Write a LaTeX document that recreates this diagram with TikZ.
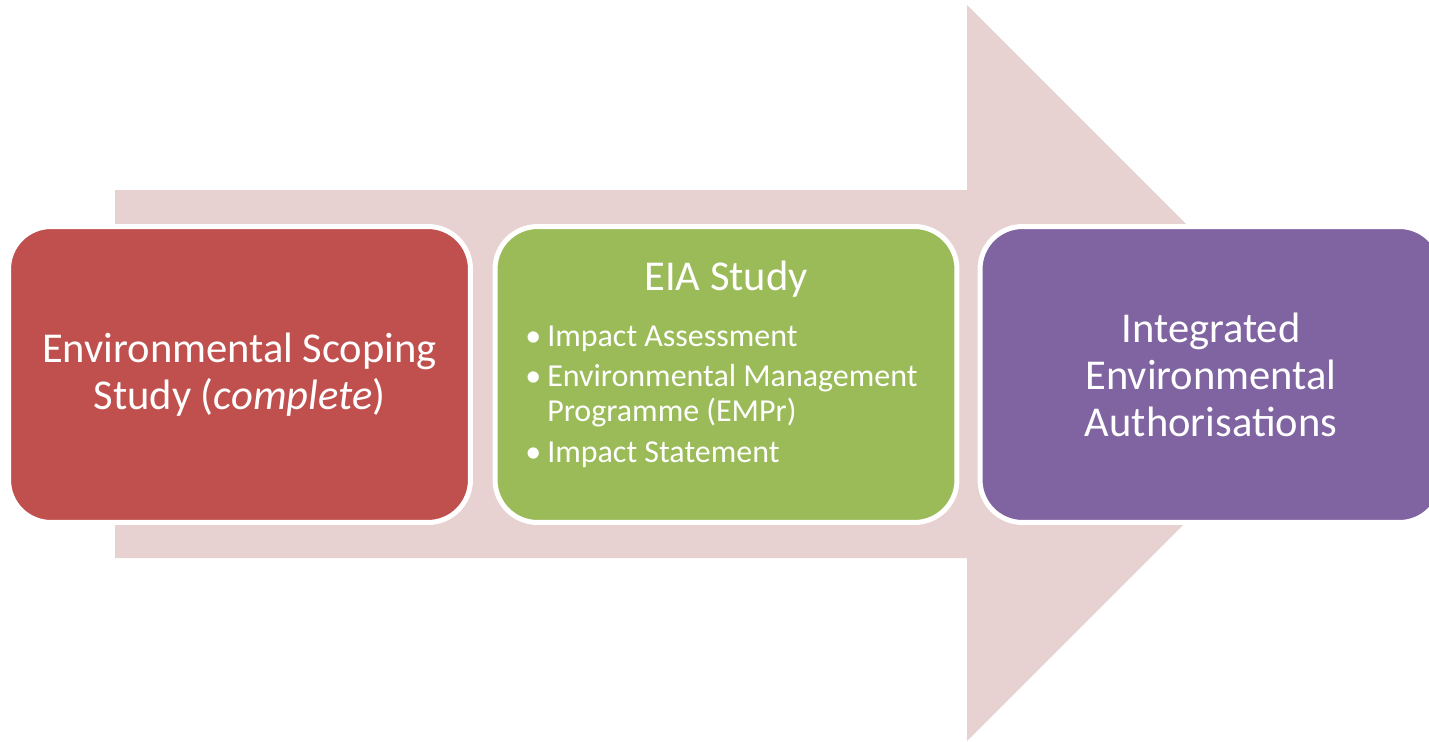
\documentclass[tikz,border=0pt]{standalone}
\usepackage{fontspec}
\setmainfont{Carlito}
\usetikzlibrary{positioning}

\definecolor{flowpink}{HTML}{E8D1D1}
\definecolor{scopered}{HTML}{C0504D}
\definecolor{eiagreen}{HTML}{9BBB59}
\definecolor{authpurple}{HTML}{8064A2}

\tikzset{
    stage/.style={draw=white, line width=0.1cm, rounded corners=0.85cm,
        minimum width=9.24cm, minimum height=5.92cm, inner sep=0pt,
        text=white, align=center, font=\fontsize{24.2}{26.7}\selectfont},
    bullets/.style={text=white, inner sep=0pt, anchor=base west,
        font=\fontsize{18.2}{19.9}\selectfont}
}

\begin{document}
\begin{tikzpicture}[x=0.02cm, y=-0.02cm]
        \useasboundingbox (0,0) rectangle (1429,741);

        % big block arrow behind the three stages
        \fill[flowpink] (115,190) -- (967,190) -- (967,5) -- (1335,373)
            -- (967,741) -- (967,558) -- (115,558) -- cycle;

        \node[stage, fill=scopered] (scoping) at (239.5,374.5)
            {Environmental Scoping\\Study (\textit{complete})};
        \node[stage, fill=eiagreen] (eia) at (726,374.5) {};
        \node[stage, fill=authpurple] (auth) at (1211,374.5)
            {Integrated\\Environmental\\Authorisations};

        % contents of the middle stage
        \node[text=white, anchor=base, inner sep=0pt, font=\fontsize{24.2}{26.7}\selectfont]
            (eiatitle) at (726,290) {EIA Study};
        \node[bullets] (eialist) at (525,346) {%
            \begin{tabular}[t]{@{}l@{\hspace{0.12cm}}l@{}}
                \textbullet & Impact Assessment\\[0.12cm]
                \textbullet & Environmental Management\\
                            & Programme (EMPr)\\[0.12cm]
                \textbullet & Impact Statement
            \end{tabular}};
    \end{tikzpicture}
\end{document}
